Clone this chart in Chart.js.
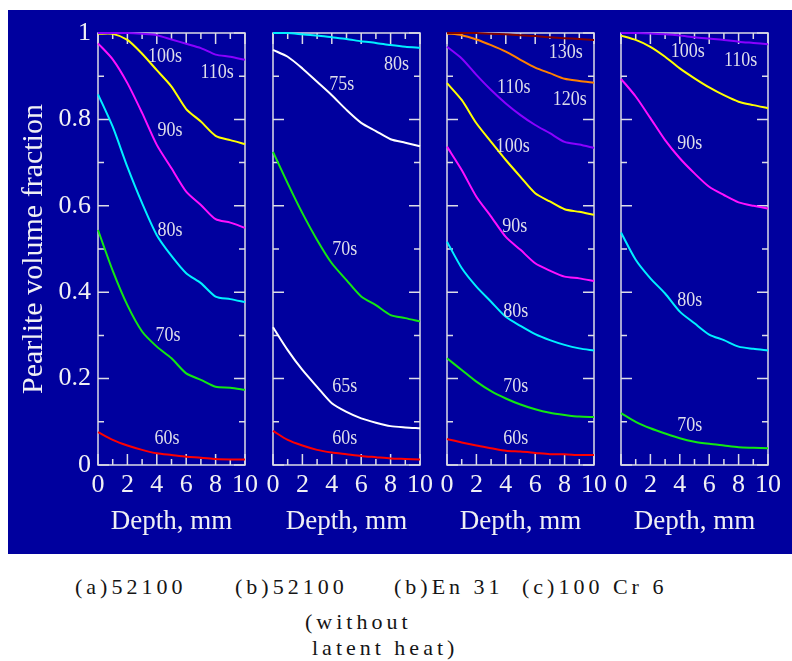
<!DOCTYPE html>
<html><head><meta charset="utf-8">
<script src="https://cdn.jsdelivr.net/npm/chart.js@4.4.1/dist/chart.umd.min.js"></script>
<style>
html,body{margin:0;padding:0;background:#fff;width:792px;height:661px;overflow:hidden;position:relative;}
#bg{position:absolute;left:8px;top:10px;width:784px;height:544px;background:#00009E;}
canvas{position:absolute;top:0;}
.cap{position:absolute;font-family:"Liberation Serif","Times New Roman",serif;font-size:22px;letter-spacing:4px;color:#151515;white-space:nowrap;line-height:24px;}
</style></head><body>
<div id="bg"></div>
<canvas id="c0" width="257" height="560" style="left:8px;width:257px;height:560px"></canvas>
<canvas id="c1" width="257" height="560" style="left:183px;width:257px;height:560px"></canvas>
<canvas id="c2" width="257" height="560" style="left:357px;width:257px;height:560px"></canvas>
<canvas id="c3" width="257" height="560" style="left:531px;width:257px;height:560px"></canvas>
<div class="cap" style="left:75px;top:575px">(a)52100</div>
<div class="cap" style="left:235px;top:575px">(b)52100</div>
<div class="cap" style="left:394px;top:575px">(b)En 31</div>
<div class="cap" style="left:522px;top:575px">(c)100 Cr 6</div>
<div class="cap" style="left:305px;top:610px">(without</div>
<div class="cap" style="left:312px;top:636px">latent heat)</div>
<script>
// ---------- data ----------
const depth = [0,1,2,3,4,5,6,7,8,9,10];
const xTickLabels = ['0','2','4','6','8','10'];
const yTickLabels = ['0','0.2','0.4','0.6','0.8','1'];
const yAxisTitle = 'Pearlite volume fraction';
const xAxisTitle = 'Depth, mm';

// (a) 52100
const a_60s  = [0.076,0.058,0.045,0.035,0.027,0.023,0.019,0.017,0.014,0.013,0.013];
const a_70s  = [0.544,0.450,0.370,0.309,0.274,0.247,0.212,0.197,0.181,0.179,0.174];
const a_80s  = [0.858,0.783,0.690,0.606,0.532,0.484,0.444,0.421,0.390,0.384,0.377];
const a_90s  = [0.976,0.939,0.884,0.815,0.741,0.687,0.633,0.602,0.569,0.561,0.549];
const a_100s = [0.998,0.998,0.984,0.952,0.914,0.876,0.824,0.795,0.762,0.752,0.743];
const a_110s = [1.000,1.000,1.000,0.998,0.995,0.985,0.975,0.965,0.950,0.945,0.938];

// (b) 52100 without latent heat
const b_60s = [0.079,0.058,0.045,0.035,0.029,0.025,0.021,0.018,0.015,0.014,0.013];
const b_65s = [0.319,0.266,0.220,0.181,0.143,0.123,0.108,0.098,0.090,0.087,0.085];
const b_70s = [0.725,0.652,0.583,0.521,0.467,0.428,0.390,0.370,0.347,0.340,0.332];
const b_75s = [0.961,0.945,0.918,0.887,0.856,0.822,0.792,0.773,0.754,0.746,0.738];
const b_80s = [1.000,1.000,0.997,0.994,0.990,0.986,0.981,0.977,0.972,0.968,0.966];

// (b) En 31
const e_60s  = [0.060,0.052,0.045,0.039,0.033,0.031,0.028,0.025,0.025,0.023,0.023];
const e_70s  = [0.247,0.220,0.193,0.171,0.154,0.140,0.129,0.121,0.116,0.112,0.111];
const e_80s  = [0.517,0.456,0.413,0.378,0.343,0.322,0.303,0.289,0.278,0.270,0.265];
const e_90s  = [0.737,0.683,0.621,0.575,0.528,0.498,0.467,0.450,0.436,0.432,0.426];
const e_100s = [0.884,0.845,0.791,0.748,0.706,0.667,0.629,0.610,0.592,0.586,0.579];
const e_110s = [0.968,0.941,0.903,0.868,0.837,0.810,0.787,0.768,0.748,0.742,0.734];
const e_120s = [0.999,0.995,0.985,0.972,0.957,0.938,0.920,0.907,0.894,0.889,0.885];
const e_130s = [1.000,1.000,1.000,0.998,0.997,0.995,0.993,0.990,0.988,0.986,0.984];

// (c) 100 Cr 6
const c_70s  = [0.120,0.100,0.085,0.073,0.062,0.054,0.049,0.045,0.041,0.040,0.039];
const c_80s  = [0.538,0.475,0.432,0.397,0.355,0.328,0.302,0.289,0.274,0.269,0.265];
const c_90s  = [0.894,0.853,0.803,0.752,0.710,0.675,0.644,0.625,0.608,0.600,0.594];
const c_100s = [0.994,0.984,0.968,0.945,0.918,0.895,0.874,0.856,0.841,0.833,0.826];
const c_110s = [1.000,1.000,0.999,0.997,0.994,0.990,0.987,0.984,0.980,0.977,0.974];

// ---------- styles ----------
const COL = {
  s60:'#FF0000', s65:'#FFFFFF', s70:'#12E812', s75:'#FFFFFF', s80:'#00F0FF',
  s90:'#FF10FF', s100:'#FFFF00', s110:'#8A00FF', s120:'#FF8000', s130:'#800000'
};
const TXT = '#F0F0F4';
const AXIS = '#DCDCE6';
const LABEL = '#DEDEEA';
const FONT = '"Liberation Serif","Times New Roman",serif';

function ser(name, data, color){ return {name, data, color}; }

const panels = [
  { id:'c0', showY:true,
    series:[ser('110s',a_110s,COL.s110),ser('100s',a_100s,COL.s100),ser('90s',a_90s,COL.s90),ser('80s',a_80s,COL.s80),ser('70s',a_70s,COL.s70),ser('60s',a_60s,COL.s60)],
    notes:[['100s',4.56,0.944],['110s',8.1,0.907],['90s',4.9,0.773],['80s',4.9,0.542],['70s',4.76,0.299],['60s',4.69,0.060]] },
  { id:'c1', showY:false,
    series:[ser('80s',b_80s,COL.s80),ser('75s',b_75s,COL.s75),ser('70s',b_70s,COL.s70),ser('65s',b_65s,COL.s65),ser('60s',b_60s,COL.s60)],
    notes:[['80s',8.41,0.926],['75s',4.67,0.88],['70s',4.88,0.498],['65s',4.88,0.181],['60s',4.88,0.060]] },
  { id:'c2', showY:false,
    series:[ser('130s',e_130s,COL.s130),ser('120s',e_120s,COL.s120),ser('110s',e_110s,COL.s110),ser('100s',e_100s,COL.s100),ser('90s',e_90s,COL.s90),ser('80s',e_80s,COL.s80),ser('70s',e_70s,COL.s70),ser('60s',e_60s,COL.s60)],
    notes:[['130s',8.07,0.954],['120s',8.35,0.845],['110s',4.54,0.873],['100s',4.47,0.736],['90s',4.61,0.551],['80s',4.67,0.354],['70s',4.67,0.181],['60s',4.67,0.060]] },
  { id:'c3', showY:false,
    series:[ser('110s',c_110s,COL.s110),ser('100s',c_100s,COL.s100),ser('90s',c_90s,COL.s90),ser('80s',c_80s,COL.s80),ser('70s',c_70s,COL.s70)],
    notes:[['100s',4.54,0.956],['110s',8.14,0.935],['90s',4.67,0.743],['80s',4.67,0.380],['70s',4.67,0.090]] }
];

// frame + inward tick marks, drawn from the scales
const frameTicks = {
  id:'frameTicks',
  beforeDatasetsDraw(chart){
    const {ctx, chartArea:a, scales:{x,y}} = chart;
    ctx.save();
    ctx.strokeStyle = AXIS; ctx.lineWidth = 1.5;
    ctx.strokeRect(a.left, a.top, a.right-a.left, a.bottom-a.top);
    ctx.beginPath();
    for (let v=0; v<=10; v++){
      const px = x.getPixelForValue(v), L = (v%2===0)?11:6;
      ctx.moveTo(px, a.bottom); ctx.lineTo(px, a.bottom-L);
      ctx.moveTo(px, a.top); ctx.lineTo(px, a.top+L);
    }
    for (let i=0; i<=10; i++){
      const v = i/10, py = y.getPixelForValue(v), L = (i%2===0)?11:6;
      ctx.moveTo(a.left, py); ctx.lineTo(a.left+L, py);
      ctx.moveTo(a.right, py); ctx.lineTo(a.right-L, py);
    }
    ctx.stroke();
    ctx.restore();
  },
  afterDatasetsDraw(chart, args, opts){
    const {ctx, scales:{x,y}} = chart;
    ctx.save();
    ctx.font = '20px ' + FONT;
    ctx.fillStyle = LABEL;
    ctx.textAlign = 'center'; ctx.textBaseline = 'middle';
    (opts.notes||[]).forEach(([t,dx,dy])=>{
      const px = x.getPixelForValue(dx), py = y.getPixelForValue(dy);
      ctx.save(); ctx.translate(px,py); ctx.scale(0.9,1);
      ctx.fillText(t,0,0); ctx.restore();
    });
    ctx.restore();
  }
};

panels.forEach(p=>{
  new Chart(document.getElementById(p.id), {
    type:'line',
    data:{
      datasets: p.series.map(s=>({
        label:s.name,
        data: depth.map((d,i)=>({x:d, y:s.data[i]})),
        borderColor:s.color, backgroundColor:s.color,
        borderWidth:2, pointRadius:0, tension:0.25, clip:false, fill:false
      }))
    },
    options:{
      responsive:false, animation:false, devicePixelRatio:1,
      layout:{padding:{left:0,right:20,top:33,bottom:0}},
      plugins:{legend:{display:false}, tooltip:{enabled:false}, frameTicks:{notes:p.notes}},
      scales:{
        x:{ type:'linear', position:'bottom', min:0, max:10,
            afterFit(s){ s.height = 95; },
            grid:{display:false, drawTicks:false}, border:{display:false},
            ticks:{ stepSize:2, autoSkip:false, maxRotation:0, padding:5, color:TXT,
                    font:{family:FONT, size:26},
                    callback:(v)=> xTickLabels[Math.round(v/2)] },
            title:{ display:true, text:xAxisTitle, color:TXT, font:{family:FONT, size:27},
                    padding:{top:0,bottom:22} } },
        y:{ type:'linear', position:'left', min:0, max:1,
            afterFit(s){ s.width = 90; },
            grid:{display:false, drawTicks:false}, border:{display:false},
            ticks:{ display:p.showY, stepSize:0.2, padding:7, color:TXT,
                    font:{family:FONT, size:26},
                    callback:(v)=> yTickLabels[Math.round(v*5)] },
            title:{ display:p.showY, text:yAxisTitle, color:TXT, font:{family:FONT, size:30},
                    padding:{top:8,bottom:0} } }
      }
    },
    plugins:[frameTicks]
  });
});
</script>
</body></html>
